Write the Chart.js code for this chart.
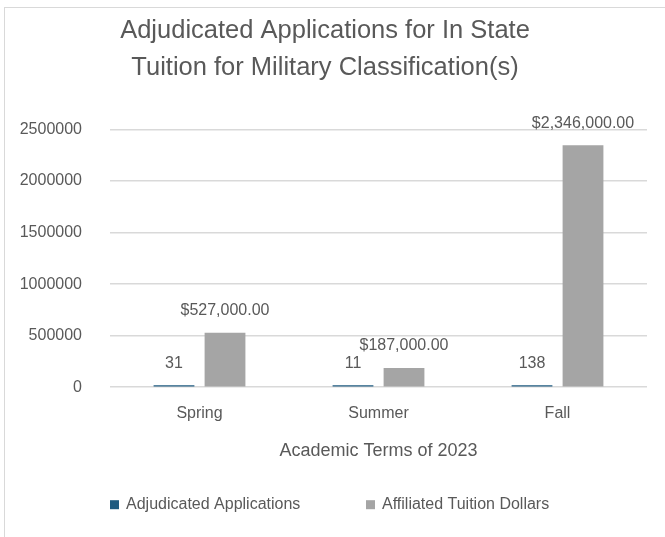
<!DOCTYPE html>
<html>
<head>
<meta charset="utf-8">
<script src="https://cdn.jsdelivr.net/npm/chart.js@4.4.1/dist/chart.umd.min.js"></script>
<style>
  html, body { margin: 0; padding: 0; background: #ffffff; overflow: hidden; }
  #frame { position: absolute; left: 4px; top: 7px; width: 700px; height: 600px; border: 1.5px solid #d9d9d9; box-sizing: border-box; }
  #wrap { position: absolute; left: 0; top: 0; width: 665px; height: 537px; }
</style>
</head>
<body>
<div id="frame"></div>
<div id="wrap"><canvas id="c" width="665" height="537"></canvas></div>
<script>
const categories = ["Spring", "Summer", "Fall"];
const seriesNames = ["Adjudicated Applications", "Affiliated Tuition Dollars"];
const adjudicatedApplications = [31, 11, 138];
const affiliatedTuitionDollars = [527000, 187000, 2346000];
const yTicks = [0, 500000, 1000000, 1500000, 2000000, 2500000];
const chartTitle = ["Adjudicated Applications for In State", "Tuition for Military Classification(s)"];
const xAxisTitle = "Academic Terms of 2023";

const FONT = "'Liberation Sans', Arial, sans-serif";
const TEXT = "#595959";
const COLORS = ["#1F5B80", "#A5A5A5"];

const fmt = [
  v => String(v),
  v => "$" + v.toLocaleString("en-US", { minimumFractionDigits: 2, maximumFractionDigits: 2 })
];

const valueLabels = {
  id: "valueLabels",
  afterDatasetsDraw(chart) {
    const ctx = chart.ctx;
    ctx.save();
    ctx.font = "16px " + FONT;
    ctx.fillStyle = TEXT;
    ctx.textAlign = "center";
    ctx.textBaseline = "middle";
    chart.data.datasets.forEach((ds, di) => {
      const meta = chart.getDatasetMeta(di);
      meta.data.forEach((bar, i) => {
        ctx.fillText(fmt[di](ds.data[i]), bar.x, bar.y - 22);
      });
    });
    ctx.restore();
  }
};

const bottomLegend = {
  id: "bottomLegend",
  afterDraw(chart) {
    const ctx = chart.ctx;
    const area = chart.chartArea;
    ctx.save();
    ctx.font = "16px " + FONT;
    ctx.textBaseline = "middle";
    ctx.textAlign = "left";
    const y = area.bottom + 117;
    const starts = [area.left, area.left + 256];
    chart.data.datasets.forEach((ds, di) => {
      const x = starts[di];
      ctx.fillStyle = ds.backgroundColor;
      ctx.fillRect(x, y - 4, 9, 9);
      ctx.fillStyle = TEXT;
      ctx.fillText(ds.label, x + 16, y);
    });
    ctx.restore();
  }
};

new Chart(document.getElementById("c"), {
  type: "bar",
  data: {
    labels: categories,
    datasets: [
      { label: seriesNames[0], data: adjudicatedApplications, backgroundColor: COLORS[0], minBarLength: 2 },
      { label: seriesNames[1], data: affiliatedTuitionDollars, backgroundColor: COLORS[1] }
    ]
  },
  options: {
    responsive: false,
    animation: false,
    devicePixelRatio: 1,
    categoryPercentage: 0.57,
    barPercentage: 0.8,
    layout: { padding: { left: 3, right: 18, top: 0, bottom: 73 } },
    plugins: {
      legend: { display: false },
      tooltip: { enabled: false },
      title: {
        display: true,
        text: chartTitle,
        color: TEXT,
        font: { family: FONT, size: 25.5, weight: "normal", lineHeight: 1.46 },
        padding: { top: 12, bottom: 43 }
      }
    },
    scales: {
      x: {
        grid: { display: false, drawTicks: false },
        border: { display: false },
        ticks: { color: TEXT, font: { family: FONT, size: 16 }, padding: 17 },
        title: { display: true, text: xAxisTitle, color: TEXT, font: { family: FONT, size: 18 }, padding: { top: 0, bottom: 2 } }
      },
      y: {
        min: 0,
        max: 2500000,
        afterBuildTicks: s => { s.ticks = yTicks.map(v => ({ value: v })); },
        afterFit: s => { s.width = 107; },
        grid: { color: "#D9D9D9", lineWidth: 1.5, drawTicks: false },
        border: { display: false },
        ticks: { color: TEXT, font: { family: FONT, size: 16 }, padding: 28, callback: v => String(v) }
      }
    }
  },
  plugins: [valueLabels, bottomLegend]
});
</script>
</body>
</html>
